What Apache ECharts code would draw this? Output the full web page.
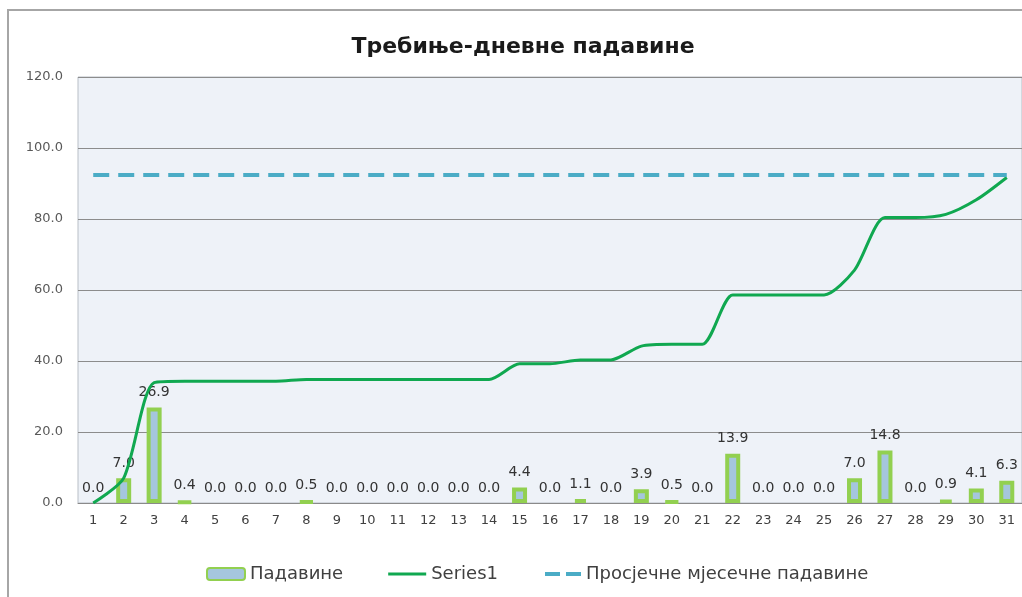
<!DOCTYPE html>
<html>
<head>
<meta charset="utf-8">
<script src="https://cdn.jsdelivr.net/npm/echarts@6/dist/echarts.min.js"></script>
<style>html,body{margin:0;padding:0;background:#fff;}#c{width:1022px;height:597px;}</style>
</head>
<body>
<div id="c"></div>
<script>
const days = ['1','2','3','4','5','6','7','8','9','10','11','12','13','14','15','16','17','18','19','20','21','22','23','24','25','26','27','28','29','30','31'];
const dailyRain = [0.0,7.0,26.9,0.4,0.0,0.0,0.0,0.5,0.0,0.0,0.0,0.0,0.0,0.0,4.4,0.0,1.1,0.0,3.9,0.5,0.0,13.9,0.0,0.0,0.0,7.0,14.8,0.0,0.9,4.1,6.3];
const cumulative = [0.0,7.0,33.9,34.3,34.3,34.3,34.3,34.8,34.8,34.8,34.8,34.8,34.8,34.8,39.2,39.2,40.3,40.3,44.2,44.7,44.7,58.6,58.6,58.6,58.6,65.6,80.4,80.4,81.3,85.4,91.7];
const monthlyAverage = [92.4,92.4,92.4,92.4,92.4,92.4,92.4,92.4,92.4,92.4,92.4,92.4,92.4,92.4,92.4,92.4,92.4,92.4,92.4,92.4,92.4,92.4,92.4,92.4,92.4,92.4,92.4,92.4,92.4,92.4,92.4];
const yTicks = [0,20,40,60,80,100,120];

const FONT = 'DejaVu Sans';
const barData = dailyRain.map(v => v === 0 ? {value: v, itemStyle: {borderWidth: 0, opacity: 0}} : v);
const lineIcon = 'path://M0,0L0.01,0L0,0.01Z M0,4.5L40,4.5L40,7.5L0,7.5Z M0,12L0.01,12L0,11.99Z';
const dashIcon = 'path://M0,0L0.01,0L0,0.01Z M2,4L17,4L17,8L2,8Z M23,4L38,4L38,8L23,8Z M0,12L0.01,12L0,11.99Z';

const chart = echarts.init(document.getElementById('c'));
chart.setOption({
  backgroundColor: '#fff',
  animation: false,
  graphic: [{
    type: 'rect', shape: {x: 8, y: 10, width: 1040, height: 620},
    style: {fill: 'none', stroke: '#a6a6a6', lineWidth: 2}, z: -1
  }],
  title: {
    text: 'Требиње-дневне падавине', left: 518, textAlign: 'center', top: 31,
    textStyle: {fontFamily: FONT, fontWeight: 'bold', fontSize: 22, color: '#1a1a1a'}
  },
  legend: {
    bottom: 9, left: 201, itemGap: 45, itemWidth: 38, itemHeight: 12,
    textStyle: {fontFamily: FONT, fontSize: 18, color: '#404040'},
    data: [
      {name: 'Падавине'},
      {name: 'Series1', icon: lineIcon},
      {name: 'Просјечне мјесечне падавине', icon: dashIcon}
    ]
  },
  grid: {
    left: 78, top: 77, width: 945, height: 426, show: true,
    backgroundColor: '#EEF2F8', borderColor: '#B8BEC6', borderWidth: 1
  },
  xAxis: {
    type: 'category', data: days, boundaryGap: true,
    axisLine: {lineStyle: {color: '#8a8a8a'}},
    axisTick: {show: false},
    axisLabel: {color: '#404040', fontFamily: FONT, fontSize: 13, margin: 11, interval: 0}
  },
  yAxis: {
    type: 'value', min: 0, max: 120, interval: 20,
    axisLine: {show: false}, axisTick: {show: false},
    splitLine: {lineStyle: {color: '#8c8c8c', width: 1}},
    axisLabel: {color: '#595959', fontFamily: FONT, fontSize: 13, margin: 15,
      formatter: v => v.toFixed(1)}
  },
  series: [
    {
      name: 'Падавине', type: 'bar', data: barData, barWidth: 15, z: 2,
      itemStyle: {color: '#A5C6DD', borderColor: '#92D050', borderWidth: 4},
      label: {show: true, position: 'top', distance: 8, color: '#333', fontFamily: FONT, fontSize: 14, opacity: 1,
        formatter: p => p.value.toFixed(1)}
    },
    {
      name: 'Series1', type: 'line', data: cumulative, smooth: 0.25, symbol: 'none', z: 3,
      lineStyle: {color: '#10A850', width: 3}, itemStyle: {color: '#10A850'}
    },
    {
      name: 'Просјечне мјесечне падавине', type: 'line', data: monthlyAverage, symbol: 'none', z: 3,
      lineStyle: {color: '#4BACC6', width: 4, type: [16, 9]}, itemStyle: {color: '#4BACC6'}
    }
  ]
});
</script>
</body>
</html>
